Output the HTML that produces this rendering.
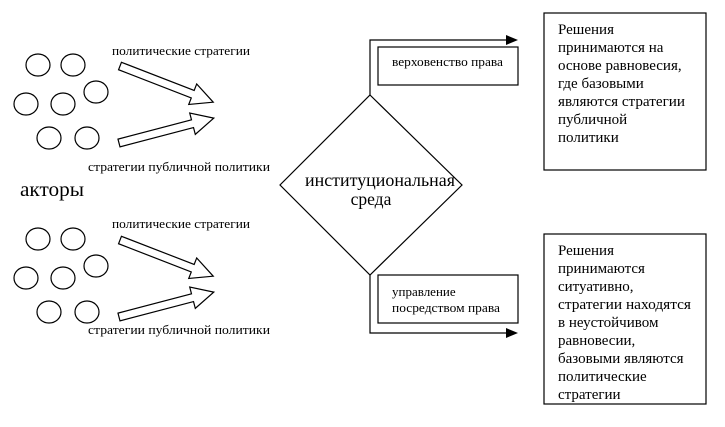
<!DOCTYPE html>
<html><head><meta charset="utf-8"><style>
html,body{margin:0;padding:0;background:#fff;}
svg, svg text{font-family:"Liberation Serif","DejaVu Serif",serif;}
</style></head><body>
<svg width="725" height="422" viewBox="0 0 725 422" xmlns="http://www.w3.org/2000/svg" font-family="Liberation Serif, serif">
<defs>
<g id="grp" fill="none" stroke="#000" stroke-width="1.2">
 <ellipse cx="38" cy="65" rx="12" ry="11"/>
 <ellipse cx="73" cy="65" rx="12" ry="11"/>
 <ellipse cx="96" cy="92" rx="12" ry="11"/>
 <ellipse cx="26" cy="104" rx="12" ry="11"/>
 <ellipse cx="63" cy="104" rx="12" ry="11"/>
 <ellipse cx="49" cy="138" rx="12" ry="11"/>
 <ellipse cx="87" cy="138" rx="12" ry="11"/>
 <polygon transform="translate(120,66) rotate(21.2)" points="0,-4 78,-4 78,-11 100,0 78,11 78,4 0,4"/>
 <polygon transform="translate(119,143) rotate(-14.7)" points="0,-4 76,-4 76,-11 98,0 76,11 76,4 0,4"/>
</g>
</defs>
<use href="#grp"/>
<use href="#grp" transform="translate(0,174)"/>
<g font-size="13" fill="#000" lengthAdjust="spacingAndGlyphs">
 <text x="112" y="55" textLength="138" lengthAdjust="spacingAndGlyphs">политические стратегии</text>
 <text x="88" y="171" textLength="182" lengthAdjust="spacingAndGlyphs">стратегии публичной политики</text>
 <text x="112" y="228" textLength="138" lengthAdjust="spacingAndGlyphs">политические стратегии</text>
 <text x="88" y="334" textLength="182" lengthAdjust="spacingAndGlyphs">стратегии публичной политики</text>
</g>
<text x="20" y="196" font-size="20" textLength="64" lengthAdjust="spacingAndGlyphs">акторы</text>

<g fill="none" stroke="#000" stroke-width="1.2">
 <polygon points="370,95 462,185 370,275 280,185"/>
 <polyline points="370,95 370,40 508,40"/>
 <polyline points="370,275 370,333 508,333"/>
 <rect x="378" y="47" width="140" height="38"/>
 <rect x="378" y="275" width="140" height="48"/>
 <rect x="544" y="13" width="162" height="157"/>
 <rect x="544" y="234" width="162" height="170"/>
</g>
<polygon points="506,35 518,40 506,45" fill="#000"/>
<polygon points="506,328 518,333 506,338" fill="#000"/>
<text x="305" y="186" font-size="17.5" textLength="150" lengthAdjust="spacingAndGlyphs">институциональная</text>
<text x="371" y="205" font-size="17.5" text-anchor="middle">среда</text>
<g font-size="13">
 <text x="392" y="66" textLength="111" lengthAdjust="spacingAndGlyphs">верховенство права</text>
 <text x="392" y="296">управление</text>
 <text x="392" y="312" textLength="108" lengthAdjust="spacingAndGlyphs">посредством права</text>
</g>
<g font-size="15">
 <text x="558" y="34">Решения</text>
 <text x="558" y="52">принимаются на</text>
 <text x="558" y="70">основе равновесия,</text>
 <text x="558" y="88">где базовыми</text>
 <text x="558" y="106" textLength="127" lengthAdjust="spacingAndGlyphs">являются стратегии</text>
 <text x="558" y="124">публичной</text>
 <text x="558" y="142">политики</text>
 <text x="558" y="255">Решения</text>
 <text x="558" y="273">принимаются</text>
 <text x="558" y="291">ситуативно,</text>
 <text x="558" y="309" textLength="133" lengthAdjust="spacingAndGlyphs">стратегии находятся</text>
 <text x="558" y="327">в неустойчивом</text>
 <text x="558" y="345">равновесии,</text>
 <text x="558" y="363">базовыми являются</text>
 <text x="558" y="381">политические</text>
 <text x="558" y="399">стратегии</text>
</g>
</svg>
</body></html>
